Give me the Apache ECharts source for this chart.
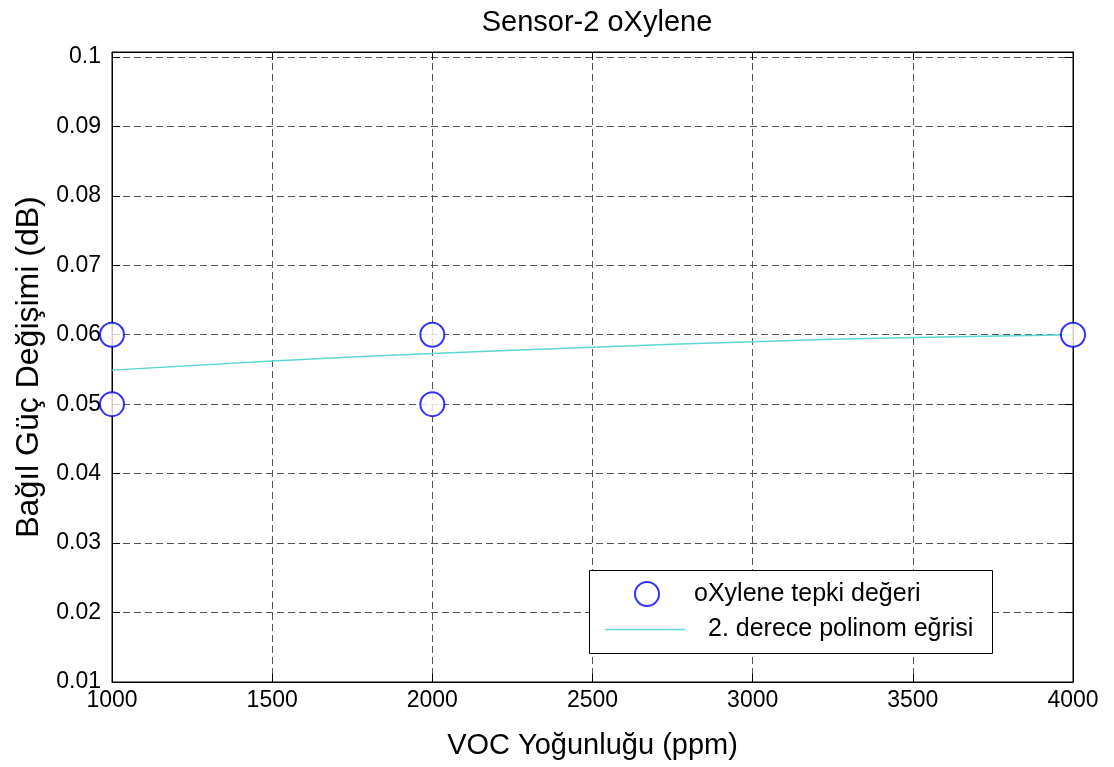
<!DOCTYPE html>
<html>
<head>
<meta charset="utf-8">
<script src="https://cdn.jsdelivr.net/npm/echarts@6/dist/echarts.min.js"></script>
<style>
  html, body { margin: 0; padding: 0; background: #fff; }
  #chart { width: 1114px; height: 767px; }
</style>
</head>
<body>
<div id="chart"></div>
<script>
// Measured responses (concentration in ppm, relative power change in dB)
const pointX = [1000, 1000, 2000, 2000, 4000];
const pointY = [0.05, 0.06, 0.05, 0.06, 0.06];

// Second-order polynomial fit curve, sampled along the concentration axis
const curveX = [1000, 1500, 2000, 2500, 3000, 3500, 4000];
const curveY = [0.0549, 0.0562, 0.0573, 0.0582, 0.0590, 0.0596, 0.0600];

const xTicks = [1000, 1500, 2000, 2500, 3000, 3500, 4000];
const yTicks = [0.01, 0.02, 0.03, 0.04, 0.05, 0.06, 0.07, 0.08, 0.09, 0.1];

const seriesNames = ['oXylene tepki değeri', '2. derece polinom eğrisi'];

const FONT = '"Liberation Sans", Arial, Helvetica, sans-serif';
const chart = echarts.init(document.getElementById('chart'));

const gridDash = { show: true, lineStyle: { color: '#555', width: 1, type: [7, 4] } };
const tickIn = { show: true, inside: true, length: 8, lineStyle: { color: '#000', width: 1 } };

const yLabel = v => {
  const hit = yTicks.find(t => Math.abs(t - v) < 1e-6);
  return hit === undefined ? '' : String(hit);
};
const xLabel = v => {
  const hit = xTicks.find(t => Math.abs(t - v) < 1e-6);
  return hit === undefined ? '' : String(hit);
};

chart.setOption({
  animation: false,
  backgroundColor: '#fff',
  textStyle: { fontFamily: FONT },
  title: {
    text: 'Sensor-2 oXylene',
    left: 592, top: 3, textAlign: 'center',
    textStyle: { fontFamily: FONT, fontSize: 29, fontWeight: 'normal', color: '#000' }
  },
  grid: {
    left: 112, right: 41, top: 52, bottom: 85,
    show: true, borderColor: '#000', borderWidth: 1, backgroundColor: '#fff'
  },
  xAxis: [{
    type: 'value', min: xTicks[0], max: xTicks[xTicks.length - 1], interval: 500,
    name: 'VOC Yoğunluğu (ppm)', nameLocation: 'middle', nameGap: 49,
    nameTextStyle: { fontFamily: FONT, fontSize: 29, color: '#000' },
    axisLine: { show: true, onZero: false, lineStyle: { color: '#000', width: 1 } },
    axisTick: tickIn,
    axisLabel: { fontFamily: FONT, fontSize: 23, color: '#000', margin: 7, formatter: xLabel },
    splitLine: gridDash
  }, {
    type: 'value', position: 'top', min: xTicks[0], max: xTicks[xTicks.length - 1], interval: 500,
    axisLine: { show: true, onZero: false, lineStyle: { color: '#000', width: 1 } },
    axisTick: tickIn, axisLabel: { show: false }, splitLine: { show: false }
  }],
  yAxis: [{
    type: 'value', min: 0.01, max: 0.1007, interval: 0.01,
    name: 'Bağıl Güç Değişimi (dB)', nameLocation: 'middle', nameGap: 67,
    nameTextStyle: { fontFamily: FONT, fontSize: 32, color: '#000' },
    axisLine: { show: true, onZero: false, lineStyle: { color: '#000', width: 1 } },
    axisTick: tickIn,
    axisLabel: { fontFamily: FONT, fontSize: 23, color: '#000', margin: 11, formatter: yLabel },
    splitLine: gridDash
  }, {
    type: 'value', position: 'right', min: 0.01, max: 0.1007, interval: 0.01,
    axisLine: { show: true, onZero: false, lineStyle: { color: '#000', width: 1 } },
    axisTick: tickIn, axisLabel: { show: false }, splitLine: { show: false }
  }],
  legend: [{
    data: [seriesNames[0]], left: 634, top: 581, padding: 0,
    itemWidth: 24, itemHeight: 24,
    textStyle: { fontFamily: FONT, fontSize: 25, color: '#000', padding: [0, 0, 0, 30] },
    selectedMode: false, z: 6
  }, {
    data: [seriesNames[1]], left: 605, top: 617, padding: 0,
    itemWidth: 80, itemHeight: 24, icon: 'path://M0,11.2 L80,11.2 L80,12.8 L0,12.8 Z',
    textStyle: { fontFamily: FONT, fontSize: 25, color: '#000', padding: [0, 0, 0, 18] },
    selectedMode: false, z: 6
  }],
  graphic: [{
    type: 'rect', z: 5,
    shape: { x: 589.5, y: 570.5, width: 403, height: 83 },
    style: { fill: '#fff', stroke: '#000', lineWidth: 1 }
  }],
  series: [{
    name: seriesNames[0], type: 'scatter',
    data: pointX.map((x, i) => [x, pointY[i]]),
    symbol: 'emptyCircle', symbolSize: 24, clip: false, z: 4,
    itemStyle: { color: '#0000ff', borderColor: '#0000ff', borderWidth: 1.4 }
  }, {
    name: seriesNames[1], type: 'line',
    data: curveX.map((x, i) => [x, curveY[i]]),
    symbol: 'none', smooth: true, z: 3,
    lineStyle: { color: '#5cd6d6', width: 1.5 },
    itemStyle: { color: '#5cd6d6' }
  }]
});
</script>
</body>
</html>
